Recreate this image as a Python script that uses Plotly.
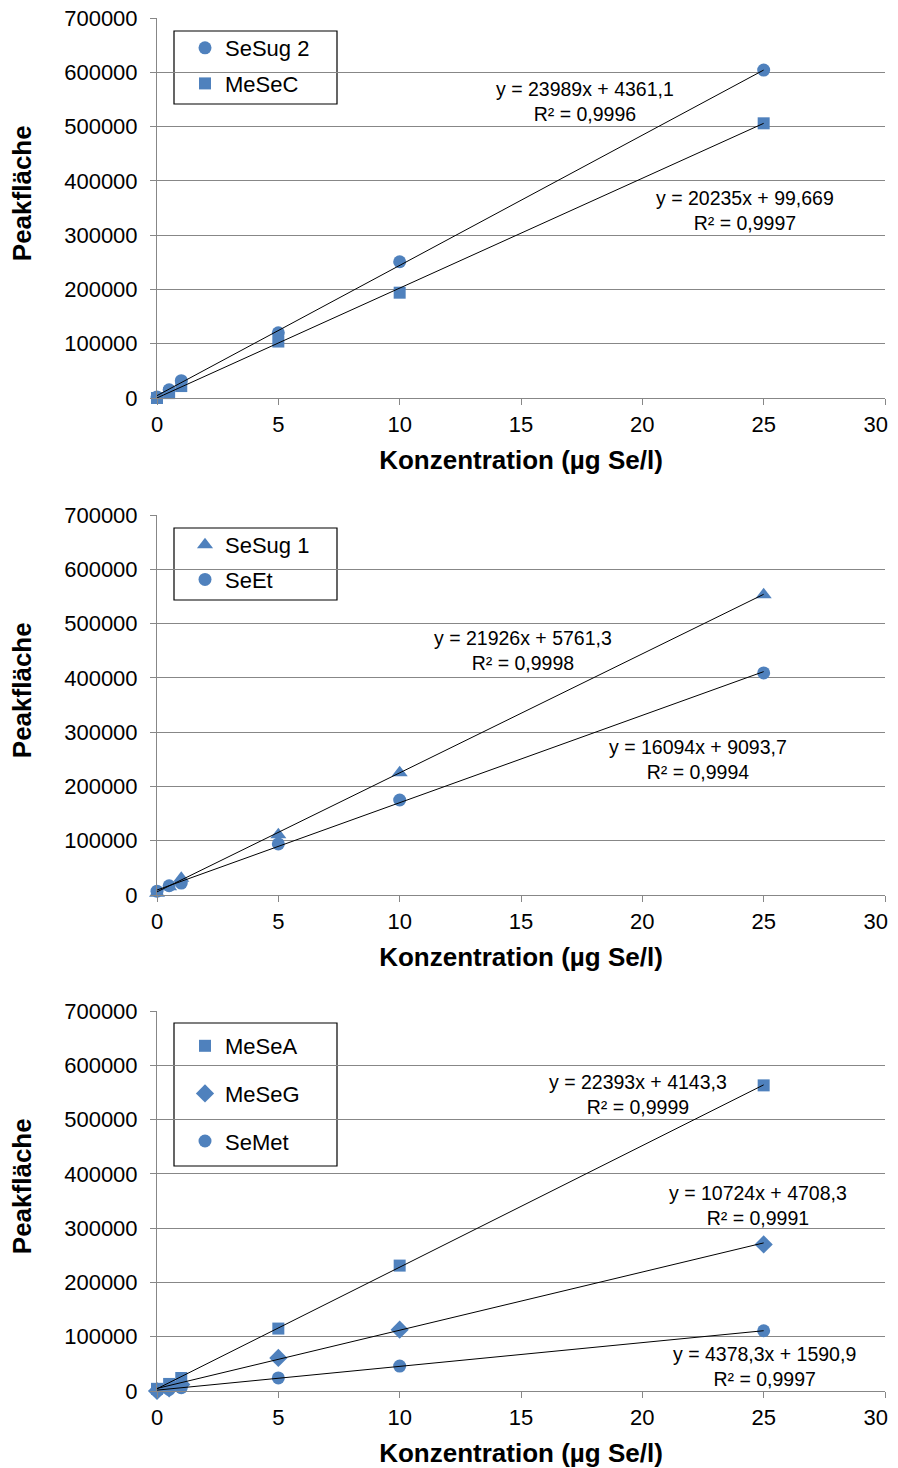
import plotly.graph_objects as go

# ---------------- data ----------------
conc = [0, 0.5, 1, 5, 10, 25]

sesug2 = [2000, 15000, 32000, 120000, 251000, 604000]
mesec = [0, 9000, 22000, 104000, 194000, 506000]

sesug1 = [3000, 15000, 31000, 111000, 225000, 553000]
seet = [7000, 17000, 22000, 94000, 175000, 409000]

mesea = [4000, 13000, 24000, 115000, 231000, 563000]
meseg = [0, 5000, 12000, 61000, 113000, 270000]
semet = [1000, 3000, 6000, 24000, 46000, 111000]

# linear trendlines (slope, intercept, R²) as printed on the chart
fit_sesug2 = (23989, 4361.1, 0.9996)
fit_mesec = (20235, 99.669, 0.9997)
fit_sesug1 = (21926, 5761.3, 0.9998)
fit_seet = (16094, 9093.7, 0.9994)
fit_mesea = (22393, 4143.3, 0.9999)
fit_meseg = (10724, 4708.3, 0.9991)
fit_semet = (4378.3, 1590.9, 0.9997)

x_ticks = [0, 5, 10, 15, 20, 25, 30]
x_ticklabels = ["0", "5", "10", "15", "20", "25", "30"]
y_ticks = [0, 100000, 200000, 300000, 400000, 500000, 600000, 700000]

x_title = "Konzentration (µg Se/l)"
y_title = "Peakfläche"

# ---------------- style ----------------
FONT = "Liberation Sans, Arial, sans-serif"
BLUE = "#4F81BD"
GRID = "#878787"

# the page body adds an 8px margin round the figure
W, H = 890, 1460
ML, MR, MT, MB = 149, 13, 10, 77
PW = W - ML - MR
PH = H - MT - MB


def dom(top_px, bottom_px):
    # screen px of a panel's plot area -> paper fraction
    return [(1391 - bottom_px) / PH, (1391 - top_px) / PH]


panels = [
    dict(series=[("SeSug 2", sesug2, "circle", fit_sesug2),
                 ("MeSeC", mesec, "square", fit_mesec)],
         label_pos=[(17.64, 547000), (24.23, 346000)],
         domain=dom(18, 398), legend_top=27, gap=4,
         box=(174, 337, 31, 104), panel_top=18),
    dict(series=[("SeSug 1", sesug1, "triangle-up", fit_sesug1),
                 ("SeEt", seet, "circle", fit_seet)],
         label_pos=[(15.08, 449500), (22.29, 250500)],
         domain=dom(515, 895), legend_top=524, gap=3,
         box=(174, 337, 528, 600), panel_top=515),
    dict(series=[("MeSeA", mesea, "square", fit_mesea),
                 ("MeSeG", meseg, "diamond", fit_meseg),
                 ("SeMet", semet, "circle", fit_semet)],
         label_pos=[(19.82, 547000), (24.77, 342600), (25.05, 46000)],
         domain=dom(1011, 1391), legend_top=1025, gap=16,
         box=(174, 337, 1023, 1166), panel_top=1011),
]

SIZES = {"circle": 13, "square": 12, "triangle-up": 14, "diamond": 14}


def fmt(v):
    return f"{v:g}".replace(".", ",")


# last x label nudged left so it stays inside the visible page
tick_text = x_ticklabels[:-1] + [x_ticklabels[-1] + "\u00a0\u00a0\u00a0"]

fig = go.Figure()
annotations = []
shapes = []
layout = {}

for i, p in enumerate(panels):
    s = "" if i == 0 else str(i + 1)
    xa, ya, lg = "x" + s, "y" + s, "legend" + s
    # markers
    for j, (name, vals, sym, fit) in enumerate(p["series"]):
        fig.add_trace(go.Scatter(
            x=conc, y=vals, mode="markers", name=name,
            marker=dict(symbol=sym, size=SIZES[sym], color=BLUE),
            xaxis=xa, yaxis=ya, legend=lg, legendgroup=f"g{i}_{j}",
            cliponaxis=False))
    # trendlines
    for j, (name, vals, sym, fit) in enumerate(p["series"]):
        m, b, r2 = fit
        xs = [conc[0], conc[-1]]
        fig.add_trace(go.Scatter(
            x=xs, y=[m * xv + b for xv in xs], mode="lines",
            line=dict(color="black", width=1), showlegend=False,
            hoverinfo="skip", xaxis=xa, yaxis=ya, cliponaxis=False))
        lx, ly = p["label_pos"][j]
        annotations.append(dict(
            x=lx, y=ly, xref=xa, yref=ya, showarrow=False,
            text=f"y = {fmt(m)}x + {fmt(b)}<br>R² = {fmt(r2)}",
            font=dict(family=FONT, size=19.5, color="black"),
            align="center"))

    layout["xaxis" + s] = dict(
        domain=[0, 1], anchor=ya, range=[0, 30],
        tickvals=x_ticks, ticktext=tick_text,
        automargin=False, ticklabeloverflow="allow",
        showgrid=False, zeroline=False, showline=True, linecolor=GRID,
        linewidth=1, ticks="outside", ticklen=6, tickcolor=GRID,
        tickfont=dict(family=FONT, size=22, color="black"),
        ticklabelstandoff=1,
        title=dict(text=x_title, standoff=14,
                   font=dict(family=FONT, size=26, color="black",
                             weight="bold")))
    layout["yaxis" + s] = dict(
        domain=p["domain"], anchor=xa, range=[0, 700000], tickvals=y_ticks,
        automargin=False, ticklabeloverflow="allow",
        tickformat="d", showgrid=True, gridcolor=GRID, gridwidth=1,
        zeroline=False, showline=True, linecolor=GRID, linewidth=1,
        ticks="outside", ticklen=6, tickcolor=GRID, ticklabelstandoff=8,
        tickfont=dict(family=FONT, size=22, color="black"))
    layout[lg] = dict(
        x=(185 - 157) / PW, y=(1391 - p["legend_top"]) / PH, xref="paper",
        yref="paper", xanchor="left", yanchor="top",
        bgcolor="rgba(0,0,0,0)", borderwidth=0, tracegroupgap=p["gap"],
        traceorder="grouped",
        font=dict(family=FONT, size=22, color="black"))
    bx0, bx1, by0, by1 = p["box"]
    shapes.append(dict(type="rect", xref=xa + " domain", yref=ya + " domain",
                       x0=(bx0 - 157) / PW, x1=(bx1 - 157) / PW,
                       y0=1 - (by1 - p["panel_top"]) / 380,
                       y1=1 - (by0 - p["panel_top"]) / 380,
                       line=dict(color="black", width=1.2),
                       fillcolor="white", layer="below"))
    annotations.append(dict(
        x=(22 - 157) / PW, y=0.539, xref="paper",
        yref=ya + " domain", showarrow=False, text=y_title, textangle=-90,
        xanchor="center", yanchor="middle",
        font=dict(family=FONT, size=26, color="black", weight="bold")))

fig.update_layout(
    width=W, height=H,
    margin=dict(l=ML, r=MR, t=MT, b=MB, autoexpand=False),
    paper_bgcolor="white", plot_bgcolor="white",
    annotations=annotations, shapes=shapes,
    font=dict(family=FONT, color="black"),
    **layout)

fig.write_html("out.html")
